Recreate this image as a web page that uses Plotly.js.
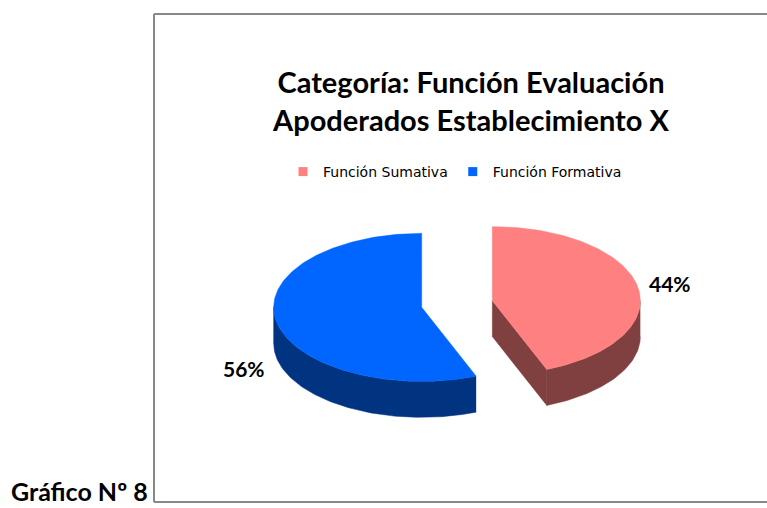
<!DOCTYPE html>
<html>
<head>
<meta charset="utf-8">
<script src="https://cdn.plot.ly/plotly-3.0.1.min.js"></script>
<style>html,body{margin:0;padding:0;background:#fff;}#chart{width:767px;height:508px;}</style>
</head>
<body>
<div id="chart"></div>
<script>
// ---- data ----
const categories = ['Función Sumativa', 'Función Formativa'];
const values = [44, 56];
const chartTitle = 'Categoría: Función Evaluación<br>Apoderados Establecimiento X';
const caption = 'Gráfico Nº 8';

// ---- style ----
const topColors = ['#FF8080', '#0066FF'];
const wallColors = ['#804040', '#003380'];
const TILT = 0.5, DEPTH = 0.243, EXPLODE = 0.243, LABEL_R = 1.22;

const total = values.reduce((a, b) => a + b, 0);
const annotations = [];
const wallTraces = [], topTraces = [];

function pt(th, ox, oy, dz) { return [ox + Math.sin(th), oy + TILT * Math.cos(th) - dz]; }
function arc(a, b, ox, oy, dz) {
  const n = Math.max(2, Math.ceil(Math.abs(b - a) / 0.02));
  const xs = [], ys = [];
  for (let i = 0; i <= n; i++) { const p = pt(a + (b - a) * i / n, ox, oy, dz); xs.push(p[0]); ys.push(p[1]); }
  return [xs, ys];
}
function poly(xs, ys, color) {
  return {type: 'scatter', mode: 'lines', x: xs, y: ys, fill: 'toself', fillcolor: color,
          line: {color: color, width: 0.5}, hoverinfo: 'skip', showlegend: false};
}

let cum = 0;
values.forEach((v, i) => {
  const t0 = cum / total * 2 * Math.PI;
  cum += v;
  const t1 = cum / total * 2 * Math.PI;
  const mid = (t0 + t1) / 2;
  const ox = EXPLODE * Math.sin(mid), oy = EXPLODE * TILT * Math.cos(mid);
  // outer wall (front half)
  const lo = Math.max(t0, Math.PI / 2), hi = Math.min(t1, 3 * Math.PI / 2);
  if (hi > lo) {
    const top = arc(lo, hi, ox, oy, 0), bot = arc(hi, lo, ox, oy, DEPTH);
    wallTraces.push(poly(top[0].concat(bot[0]), top[1].concat(bot[1]), wallColors[i]));
  }
  // radial walls
  [[t1, Math.sin(t1) > 1e-6], [t0, Math.sin(t0) < -1e-6]].forEach(([th, vis]) => {
    if (!vis) return;
    const r = pt(th, ox, oy, 0), rb = pt(th, ox, oy, DEPTH);
    wallTraces.push(poly([ox, r[0], rb[0], ox, ox], [oy, r[1], rb[1], oy - DEPTH, oy], wallColors[i]));
  });
  // top face
  const a = arc(t0, t1, ox, oy, 0);
  topTraces.push(poly([ox].concat(a[0], [ox]), [oy].concat(a[1], [oy]), topColors[i]));
  // label
  const front = Math.cos(mid) < 0;
  annotations.push({
    x: ox + Math.sin(mid) * LABEL_R, y: oy + TILT * Math.cos(mid) * LABEL_R,
    xref: 'x', yref: 'y', showarrow: false, yshift: front ? -44 : 0,
    text: Math.round(v / total * 100) + '%',
    font: {family: 'Lato', size: 21, color: '#000', weight: 'bold'}
  });
});

// legend entries
const legendTraces = categories.map((c, i) => ({
  type: 'scatter', mode: 'markers', x: [null], y: [null], name: c,
  marker: {symbol: 'square', size: 9, color: topColors[i]}, hoverinfo: 'skip'
}));

annotations.push({
  xref: 'paper', yref: 'paper', x: 9 / 767, y: 0, xanchor: 'left', yanchor: 'bottom', yshift: 0,
  showarrow: false, text: caption, font: {family: 'Lato', size: 25, color: '#000', weight: 'bold'}
});

const shapes = [
  {type: 'line', xref: 'paper', yref: 'paper', x0: 154 / 767, x1: 154 / 767, y0: 1 - 14 / 508, y1: 1 - 502 / 508, line: {color: '#888', width: 2}},
  {type: 'line', xref: 'paper', yref: 'paper', x0: 154 / 767, x1: 1, y0: 1 - 14 / 508, y1: 1 - 14 / 508, line: {color: '#888', width: 2}},
  {type: 'line', xref: 'paper', yref: 'paper', x0: 154 / 767, x1: 1, y0: 1 - 502 / 508, y1: 1 - 502 / 508, line: {color: '#888', width: 2}}
];

const layout = {
  width: 767, height: 508,
  margin: {l: 0, r: 0, t: 0, b: 0},
  paper_bgcolor: '#fff', plot_bgcolor: '#fff',
  title: {text: chartTitle, x: 471 / 767, xanchor: 'center', y: 1 - 93 / 508, yanchor: 'top', yref: 'container',
          font: {family: 'Lato', size: 29, color: '#000', weight: 'bold'}},
  xaxis: {range: [-457 / 148, 310 / 148], visible: false, fixedrange: true},
  yaxis: {range: [-204 / 148, 304 / 148], visible: false, fixedrange: true},
  showlegend: true,
  legend: {orientation: 'h', x: 283 / 767, xanchor: 'left', y: 1 - 156 / 508, yanchor: 'top',
           font: {family: 'DejaVu Sans', size: 14, color: '#000'}, bgcolor: 'rgba(0,0,0,0)'},
  annotations: annotations,
  shapes: shapes
};

Plotly.newPlot('chart', wallTraces.concat(topTraces, legendTraces), layout, {staticPlot: true});
</script>
</body>
</html>
